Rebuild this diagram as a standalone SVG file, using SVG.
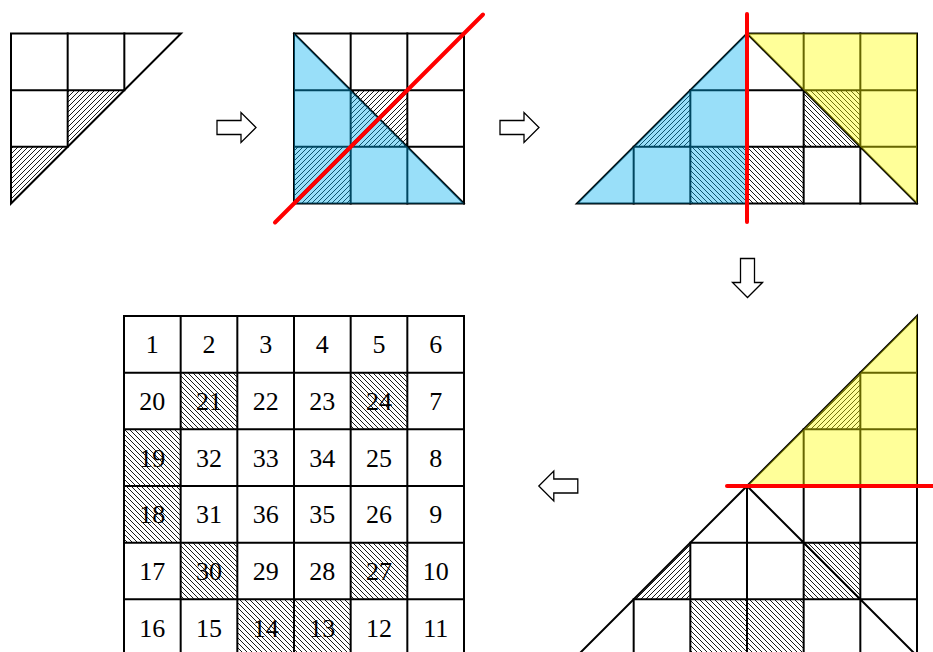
<svg xmlns="http://www.w3.org/2000/svg" width="933" height="652" viewBox="0 0 933 652">
<defs>
<pattern id="hf" patternUnits="userSpaceOnUse" width="5" height="5"><path d="M-1,1 L1,-1 M0,5 L5,0 M4,6 L6,4" stroke="#000" stroke-width="0.9"/></pattern>
<pattern id="hb" patternUnits="userSpaceOnUse" width="5" height="5"><path d="M-1,4 L1,6 M0,0 L5,5 M4,-1 L6,1" stroke="#000" stroke-width="0.9"/></pattern>
<path id="arr" d="M-19.5,-7 H4.5 V-15 L19.5,0 L4.5,15 V7 H-19.5 Z"/>
</defs>
<style>
.ln{fill:none;stroke:#000;stroke-width:2;stroke-linecap:square}
.hf{fill:url(#hf)}
.hb{fill:url(#hb)}
.blue{fill:#00b0f0;fill-opacity:0.4}
.yel{fill:#ffff00;fill-opacity:0.4}
.red{fill:none;stroke:#ff0000;stroke-width:4;stroke-linecap:round}
.ar{fill:#fff;stroke:#000;stroke-width:1.3}
.num{font-family:"Liberation Serif","DejaVu Serif",serif;font-size:26px;text-anchor:middle;fill:#000}
</style>
<rect width="933" height="652" fill="#fff"/>

<g id="panel1">
<polygon class="hf" points="67.67,90.17 124.33,90.17 67.67,146.83"/>
<polygon class="hf" points="11,146.83 67.67,146.83 11,203.5"/>
<polygon class="ln" points="11,33.5 181,33.5 11,203.5"/>
<path class="ln" d="M11,90.17 H124.33 M11,146.83 H67.67 M67.67,33.5 V146.83 M124.33,33.5 V90.17"/>
</g>

<g id="panel2">
<rect class="hf" x="294" y="146.83" width="56.67" height="56.67"/>
<rect class="hf" x="350.67" y="90.17" width="56.67" height="56.67"/>
<rect class="ln" x="294" y="33.5" width="170" height="170"/>
<path class="ln" d="M350.67,33.5 V203.5 M407.33,33.5 V203.5 M294,90.17 H464 M294,146.83 H464 M294,33.5 L464,203.5"/>
<polygon class="blue" points="294,33.5 464,203.5 294,203.5"/>
<path class="red" d="M275,222.5 L483,14.5"/>
</g>

<g id="panel3">
<polygon class="hf" points="633.67,146.83 690.33,90.17 690.33,146.83"/>
<rect class="hb" x="690.33" y="146.83" width="56.67" height="56.67"/>
<rect class="hb" x="747" y="146.83" width="56.67" height="56.67"/>
<rect class="hb" x="803.67" y="90.17" width="56.67" height="56.67"/>
<polygon class="ln" points="577,203.5 747,33.5 917,33.5 917,203.5"/>
<path class="ln" d="M747,33.5 L917,203.5 M633.67,146.83 V203.5 M690.33,90.17 V203.5 M747,33.5 V203.5 M803.67,33.5 V203.5 M860.33,33.5 V203.5 M690.33,90.17 H917 M633.67,146.83 H917"/>
<polygon class="blue" points="577,203.5 747,33.5 747,203.5"/>
<polygon class="yel" points="747,33.5 917,33.5 917,203.5"/>
<path class="red" d="M747,14 V222"/>
</g>

<g id="panel4">
<polygon class="hf" points="803.67,429.33 860.33,372.67 860.33,429.33"/>
<polygon class="hf" points="633.67,599.33 690.33,542.67 690.33,599.33"/>
<rect class="hb" x="803.67" y="542.67" width="56.67" height="56.67"/>
<rect class="hb" x="690.33" y="599.33" width="56.67" height="56.67"/>
<rect class="hb" x="747" y="599.33" width="56.67" height="56.67"/>
<polygon class="ln" points="917,316 577,656 917,656"/>
<path class="ln" d="M860.33,372.67 H917 M803.67,429.33 H917 M747,486 H917 M690.33,542.67 H917 M633.67,599.33 H917 M860.33,372.67 V656 M803.67,429.33 V656 M747,486 V656 M690.33,542.67 V656 M633.67,599.33 V656 M747,486 L917,656"/>
<polygon class="yel" points="917,316 747,486 917,486"/>
<path class="red" d="M727,486 H933"/>
</g>

<g id="panel5">
<g class="num">
<text x="152.33" y="353.3">1</text><text x="209" y="353.3">2</text><text x="265.67" y="353.3">3</text><text x="322.33" y="353.3">4</text><text x="379" y="353.3">5</text><text x="435.67" y="353.3">6</text>
<text x="152.33" y="410">20</text><text x="209" y="410">21</text><text x="265.67" y="410">22</text><text x="322.33" y="410">23</text><text x="379" y="410">24</text><text x="435.67" y="410">7</text>
<text x="152.33" y="466.7">19</text><text x="209" y="466.7">32</text><text x="265.67" y="466.7">33</text><text x="322.33" y="466.7">34</text><text x="379" y="466.7">25</text><text x="435.67" y="466.7">8</text>
<text x="152.33" y="523.3">18</text><text x="209" y="523.3">31</text><text x="265.67" y="523.3">36</text><text x="322.33" y="523.3">35</text><text x="379" y="523.3">26</text><text x="435.67" y="523.3">9</text>
<text x="152.33" y="580">17</text><text x="209" y="580">30</text><text x="265.67" y="580">29</text><text x="322.33" y="580">28</text><text x="379" y="580">27</text><text x="435.67" y="580">10</text>
<text x="152.33" y="636.7">16</text><text x="209" y="636.7">15</text><text x="265.67" y="636.7">14</text><text x="322.33" y="636.7">13</text><text x="379" y="636.7">12</text><text x="435.67" y="636.7">11</text>
</g>
<rect class="hb" x="180.67" y="372.67" width="56.67" height="56.67"/>
<rect class="hb" x="350.67" y="372.67" width="56.67" height="56.67"/>
<rect class="hb" x="124" y="429.33" width="56.67" height="56.67"/>
<rect class="hb" x="124" y="486" width="56.67" height="56.67"/>
<rect class="hb" x="180.67" y="542.67" width="56.67" height="56.67"/>
<rect class="hb" x="350.67" y="542.67" width="56.67" height="56.67"/>
<rect class="hb" x="237.33" y="599.33" width="56.67" height="56.67"/>
<rect class="hb" x="294" y="599.33" width="56.67" height="56.67"/>
<path class="ln" d="M124,316 H464 M124,372.67 H464 M124,429.33 H464 M124,486 H464 M124,542.67 H464 M124,599.33 H464 M124,316 V656 M180.67,316 V656 M237.33,316 V656 M294,316 V656 M350.67,316 V656 M407.33,316 V656 M464,316 V656"/>
</g>

<g id="connectors">
<use href="#arr" class="ar" transform="translate(236.5,127.5)"/>
<use href="#arr" class="ar" transform="translate(519.5,127.5)"/>
<use href="#arr" class="ar" transform="translate(747.5,278) rotate(90)"/>
<use href="#arr" class="ar" transform="translate(558.3,486) rotate(180)"/>
</g>
</svg>
